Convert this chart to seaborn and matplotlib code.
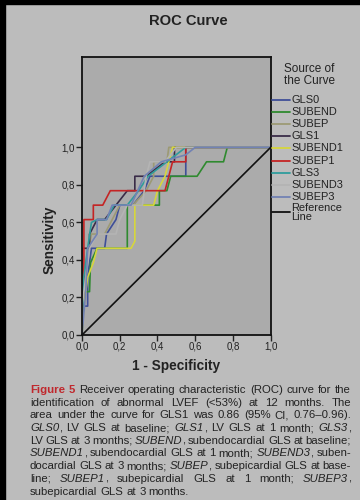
import numpy as np
import pandas as pd
import matplotlib
matplotlib.use('Agg')
import matplotlib.pyplot as plt
from matplotlib.lines import Line2D
from matplotlib.patches import Rectangle
import seaborn as sns

sns.set_theme(style='white')
plt.rcParams['font.family'] = ['Liberation Sans', 'DejaVu Sans']

W, H = 360, 500
BG = '#bcbcbc'
PLOT_BG = '#ababab'

# ROC curves (1 - specificity, sensitivity)
curves = ['GLS0', 'SUBEND', 'SUBEP', 'GLS1', 'SUBEND1', 'SUBEP1',
          'GLS3', 'SUBEND3', 'SUBEP3', 'Reference Line']
colors = ['#3f4f98', '#2f8a2f', '#9c9a74', '#3a2c48', '#d6d63c', '#c42424',
          '#2f9c9c', '#b4b4b4', '#7282b4', '#111111']

gls0_x = [0, 0.005, 0.03, 0.03, 0.05, 0.12, 0.13, 0.18, 0.20, 0.27, 0.33, 0.36, 0.55, 0.55, 1.0]
gls0_y = [0, 0.154, 0.154, 0.308, 0.462, 0.462, 0.538, 0.615, 0.692, 0.692, 0.769, 0.846, 0.846, 1.0, 1.0]
subend_x = [0, 0.01, 0.04, 0.045, 0.08, 0.24, 0.24, 0.41, 0.41, 0.45, 0.47, 0.61, 0.66, 0.75, 0.77, 1.0]
subend_y = [0, 0.231, 0.231, 0.385, 0.462, 0.462, 0.692, 0.692, 0.769, 0.769, 0.846, 0.846, 0.923, 0.923, 1.0, 1.0]
subep_x = [0, 0.01, 0.02, 0.05, 0.12, 0.16, 0.20, 0.27, 0.34, 0.38, 0.38, 0.45, 0.46, 1.0]
subep_y = [0, 0.231, 0.385, 0.538, 0.538, 0.615, 0.692, 0.692, 0.769, 0.846, 0.923, 0.923, 1.0, 1.0]
gls1_x = [0, 0, 0.04, 0.04, 0.08, 0.12, 0.24, 0.28, 0.28, 0.34, 0.44, 0.49, 0.49, 1.0]
gls1_y = [0, 0.462, 0.462, 0.538, 0.615, 0.615, 0.769, 0.769, 0.846, 0.846, 0.923, 0.923, 1.0, 1.0]
subend1_x = [0, 0.01, 0.03, 0.06, 0.08, 0.26, 0.28, 0.28, 0.38, 0.40, 0.44, 0.46, 0.48, 1.0]
subend1_y = [0, 0.154, 0.308, 0.385, 0.462, 0.462, 0.50, 0.692, 0.692, 0.769, 0.846, 0.923, 1.0, 1.0]
subep1_x = [0, 0.01, 0.01, 0.06, 0.06, 0.11, 0.15, 0.44, 0.46, 0.48, 0.55, 0.55, 1.0]
subep1_y = [0, 0.308, 0.615, 0.615, 0.692, 0.692, 0.769, 0.769, 0.846, 0.923, 0.923, 1.0, 1.0]
gls3_x = [0, 0.01, 0.03, 0.05, 0.08, 0.13, 0.17, 0.24, 0.30, 0.35, 0.45, 0.55, 1.0]
gls3_y = [0, 0.308, 0.462, 0.60, 0.615, 0.615, 0.692, 0.692, 0.769, 0.846, 0.923, 1.0, 1.0]
subend3_x = [0, 0, 0.02, 0.04, 0.08, 0.18, 0.20, 0.24, 0.32, 0.34, 0.36, 0.44, 0.50, 1.0]
subend3_y = [0, 0.154, 0.308, 0.462, 0.538, 0.538, 0.615, 0.692, 0.692, 0.846, 0.923, 0.923, 1.0, 1.0]
subep3_x = [0, 0.02, 0.03, 0.08, 0.08, 0.13, 0.16, 0.26, 0.33, 0.42, 0.55, 0.60, 1.0]
subep3_y = [0, 0.231, 0.462, 0.538, 0.615, 0.615, 0.692, 0.692, 0.846, 0.923, 0.96, 1.0, 1.0]
ref_x = [0, 1]
ref_y = [0, 1]

xs = [gls0_x, subend_x, subep_x, gls1_x, subend1_x, subep1_x, gls3_x, subend3_x, subep3_x, ref_x]
ys = [gls0_y, subend_y, subep_y, gls1_y, subend1_y, subep1_y, gls3_y, subend3_y, subep3_y, ref_y]

rows = []
for name, x, y in zip(curves, xs, ys):
    for i, (a, b) in enumerate(zip(x, y)):
        rows.append({'curve': name, 'order': i, 'fpr': a, 'tpr': b})
df = pd.DataFrame(rows)

tick_vals = [0.0, 0.2, 0.4, 0.6, 0.8, 1.0]
tick_labels = ['0,0', '0,2', '0,4', '0,6', '0,8', '1,0']

caption = [
    "#Figure# #5# Receiver operating characteristic (ROC) curve for the",
    "identification of abnormal LVEF (<53%) at 12 months. The",
    "area under the curve for GLS1 was 0.86 (95% CI, 0.76\u20130.96).",
    "*GLS0*, LV GLS at baseline; *GLS1*, LV GLS at 1 month; *GLS3*,",
    "LV GLS at 3 months; *SUBEND*, subendocardial GLS at baseline;",
    "*SUBEND1*, subendocardial GLS at 1 month; *SUBEND3*, suben-",
    "docardial GLS at 3 months; *SUBEP*, subepicardial GLS at base-",
    "line; *SUBEP1*, subepicardial GLS at 1 month; *SUBEP3*,",
    "subepicardial GLS at 3 months.",
]

fig = plt.figure(figsize=(W / 100, H / 100), dpi=100, facecolor=BG)
ax = fig.add_axes([82 / W, 1 - 335 / H, 188.7 / W, (335 - 56.7) / H])
ax.set_facecolor(PLOT_BG)

sns.lineplot(data=df, x='fpr', y='tpr', hue='curve', hue_order=curves,
             palette=dict(zip(curves, colors)), estimator=None, sort=False,
             units='curve', linewidth=1.2, legend=False, ax=ax)

ax.set_xlim(0, 1)
ax.set_ylim(0, 1.483)
ax.set_xticks(tick_vals)
ax.set_xticklabels(tick_labels)
ax.set_yticks(tick_vals)
ax.set_yticklabels(tick_labels)
ax.tick_params(axis='both', which='both', direction='out', length=4, width=1,
               color='#222222', labelsize=7, labelcolor='#222222', pad=1,
               left=True, bottom=True)
for s in ax.spines.values():
    s.set_color('#111111')
    s.set_linewidth(1.3)
ax.set_xlabel('1 - Specificity', fontsize=9.8, fontweight='bold', color='#222222', labelpad=5)
ax.set_ylabel('')
fig.text(50 / W, 1 - 240 / H, 'Sensitivity', rotation=90, ha='center', va='center',
         fontsize=9.8, fontweight='bold', color='#222222')
fig.text(188 / W, 1 - 21 / H, 'ROC Curve', ha='center', va='center',
         fontsize=10.6, fontweight='bold', color='#222222')

# legend drawn by hand to match SPSS layout
fig.text(309 / W, 1 - 75 / H, 'Source of\nthe Curve', ha='center', va='center',
         fontsize=8.5, color='#222222', linespacing=0.95)
for i, (name, c) in enumerate(zip(curves, colors)):
    yy = 1 - (99.5 + 12.2 * i + (3.0 if i == 9 else 0)) / H
    fig.add_artist(Line2D([272 / W, 290 / W], [yy, yy], color=c, lw=1.3,
                          transform=fig.transFigure))
    label = 'Reference\nLine' if name == 'Reference Line' else name
    fig.text(291 / W, yy, label, ha='left', va='center', fontsize=7.9,
             color='#222222', linespacing=0.9)

# black screen border
fig.patches.append(Rectangle((0, 0), 5 / W, 1, transform=fig.transFigure,
                             color='black', zorder=10))
fig.patches.append(Rectangle((0, 1 - 4 / H), 1, 4 / H, transform=fig.transFigure,
                             color='black', zorder=10))

# justified caption
renderer = fig.canvas.get_renderer()
FS = 8.2


def parse(line):
    words = []
    for w in line.split(' '):
        pieces, cur, style = [], '', 'n'
        for ch in w:
            if ch in '*#':
                if cur:
                    pieces.append((cur, style))
                cur = ''
                new = 'i' if ch == '*' else 'b'
                style = 'n' if style == new else new
            else:
                cur += ch
        if cur:
            pieces.append((cur, style))
        words.append(pieces)
    return words


def style_kw(st):
    if st == 'i':
        return dict(fontstyle='italic', color='#222222')
    if st == 'b':
        return dict(fontweight='bold', color='#c0282d')
    return dict(color='#222222')


def width(s, st):
    t = fig.text(0, 0, s, fontsize=FS, **style_kw(st))
    w = t.get_window_extent(renderer).width
    t.remove()
    return w


x_left, x_right = 30, 351
space = width('a b', 'n') - width('ab', 'n')
for li, line in enumerate(caption):
    words = parse(line)
    wlens = [sum(width(s, st) for s, st in p) for p in words]
    if li < len(caption) - 1 and len(words) > 1:
        gap = (x_right - x_left - sum(wlens)) / (len(words) - 1)
    else:
        gap = space
    y = 1 - (393 + 12.7 * li) / H
    x = x_left
    for p, wl in zip(words, wlens):
        xx = x
        for s, st in p:
            fig.text(xx / W, y, s, fontsize=FS, ha='left', va='baseline', **style_kw(st))
            xx += width(s, st)
        x += wl + gap

fig.savefig('out.png', dpi=100, facecolor=BG)
